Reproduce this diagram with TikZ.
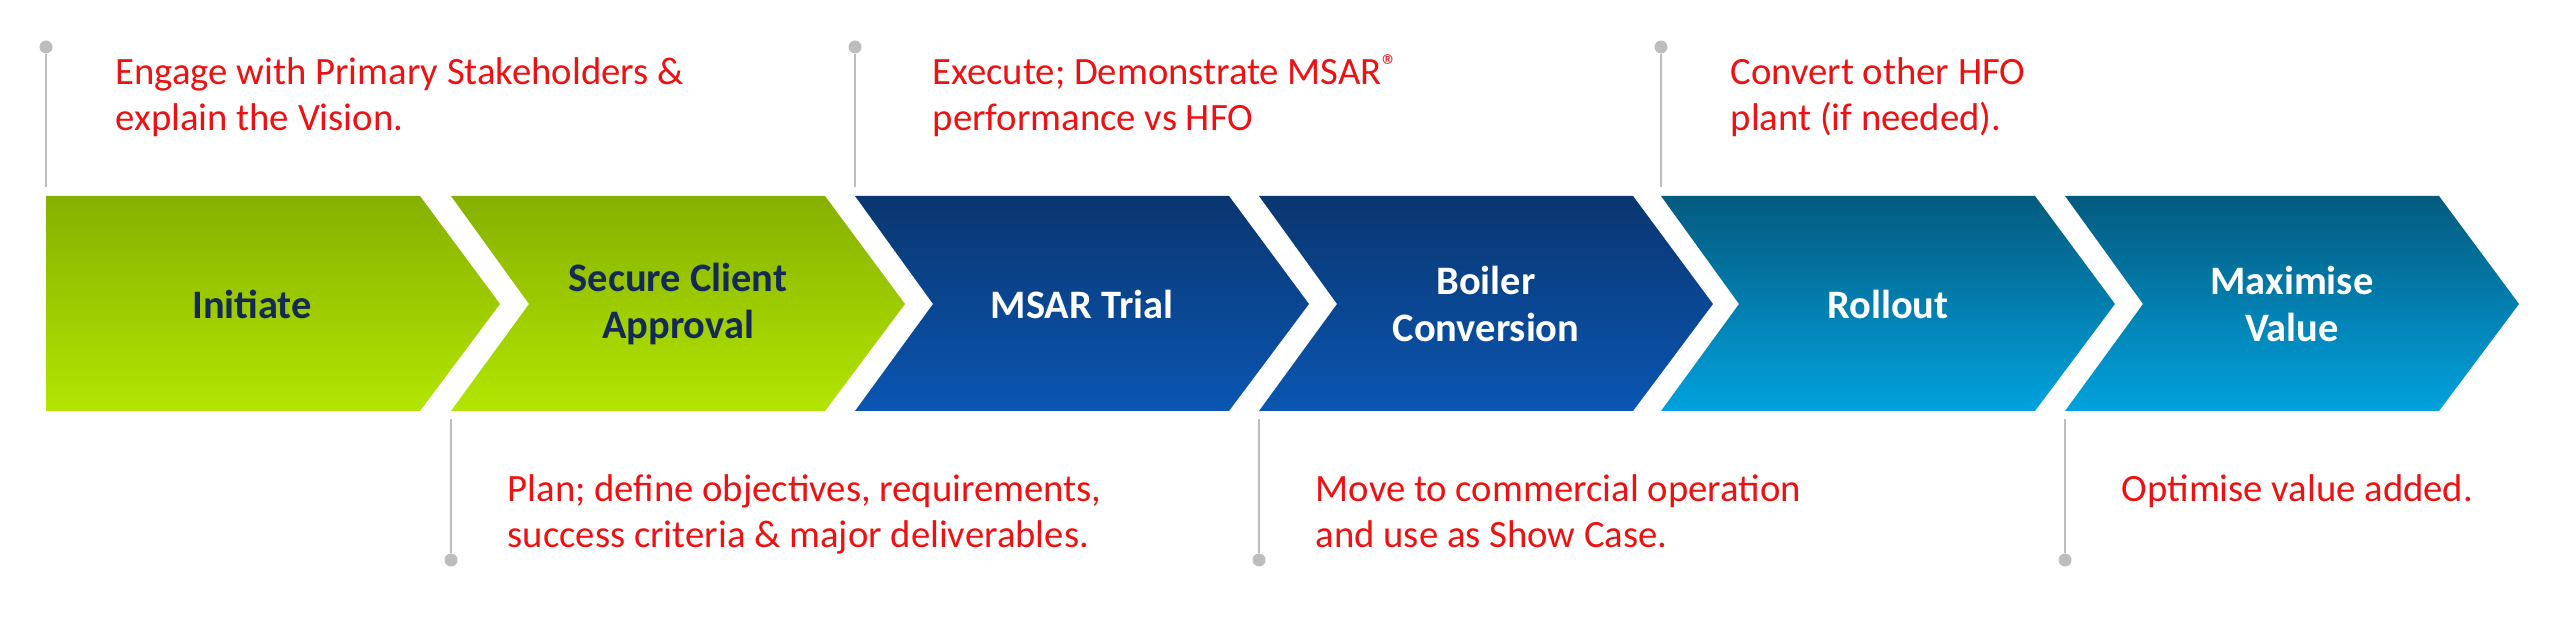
\documentclass[tikz,border=0pt]{standalone}
\usepackage{fontspec}
\setmainfont{Carlito}
\definecolor{notered}{HTML}{EE1111}
\definecolor{labelnavy}{HTML}{142A55}
\definecolor{pingrey}{HTML}{BDBDBD}
\definecolor{greentop}{HTML}{86B000}
\definecolor{greenbot}{HTML}{B2E600}
\definecolor{navytop}{HTML}{0A3670}
\definecolor{navybot}{HTML}{0A56B2}
\definecolor{cyantop}{HTML}{045A7E}
\definecolor{cyanbot}{HTML}{01A2DE}

\begin{document}
\begin{tikzpicture}[x=0.01cm, y=-0.01cm,
    note/.style={anchor=base west, align=left, inner sep=0pt, text=notered,
                 font=\fontsize{11}{13.1}\selectfont},
    steplabel/.style={align=center, inner sep=0pt,
                 font=\bfseries\fontsize{11.5}{13.4}\selectfont},
    pin/.style={pingrey, line width=0.8pt},
    pindot/.style={fill=pingrey, circle, inner sep=0pt, minimum size=0.13cm}]
    \useasboundingbox (0,0) rectangle (2560,622);

    % chevrons
    \shade[top color=greentop, bottom color=greenbot]
        (46,196) -- (420,196) -- (500,304) -- (420,411) -- (46,411) -- cycle;
    \foreach \s/\ctop/\cbot in {451/greentop/greenbot, 855/navytop/navybot,
        1259/navytop/navybot, 1661/cyantop/cyanbot, 2065/cyantop/cyanbot}{
        \shade[top color=\ctop, bottom color=\cbot]
            (\s,196) -- (\s+374,196) -- (\s+454,304) -- (\s+374,411)
            -- (\s,411) -- (\s+78,304) -- cycle;
    }

    \node[steplabel, text=labelnavy] (initiate) at (252,304) {Initiate};
    \node[steplabel, text=labelnavy] (approval) at (678,304) {Secure Client\\Approval};
    \node[steplabel, text=white] (trial) at (1082,304) {MSAR Trial};
    \node[steplabel, text=white] (boiler) at (1486,304) {Boiler\\Conversion};
    \node[steplabel, text=white] (rollout) at (1888,304) {Rollout};
    \node[steplabel, text=white] (maximise) at (2292,304) {Maximise\\Value};

    % pins above
    \foreach \s/\name in {46/pinA, 855/pinC, 1661/pinE}{
        \node[pindot] (\name) at (\s,47) {};
        \coordinate (\name end) at (\s,187);
        \draw[pin] (\name) -- (\name end);
    }
    % pins below
    \foreach \s/\name in {451/pinB, 1259/pinD, 2065/pinF}{
        \node[pindot] (\name) at (\s,560) {};
        \coordinate (\name end) at (\s,419);
        \draw[pin] (\name end) -- (\name);
    }

    % notes (base = last line)
    \node[note] (engage) at (115,131) {Engage with Primary Stakeholders \&\\explain the Vision.};
    \node[note] (execute) at (932,131) {Execute; Demonstrate MSAR\raisebox{0.45ex}{\small\textregistered}\\performance vs HFO};
    \node[note] (convert) at (1730,131) {Convert other HFO\\plant (if needed).};
    \node[note] (plan) at (507,548) {Plan; define objectives, requirements,\\success criteria \& major deliverables.};
    \node[note] (move) at (1315,548) {Move to commercial operation\\and use as Show Case.};
    \node[note] (optimise) at (2121,502) {Optimise value added.};
\end{tikzpicture}
\end{document}
